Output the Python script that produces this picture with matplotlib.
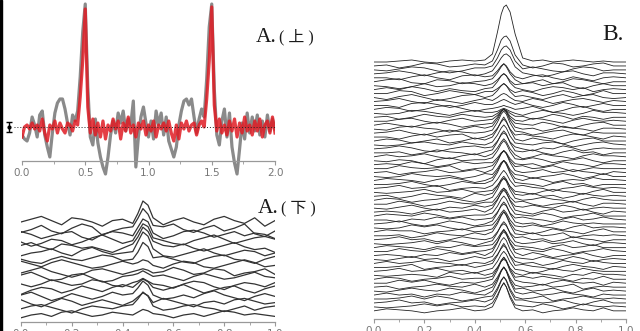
import numpy as np
import matplotlib.pyplot as plt
from matplotlib.patches import Rectangle

W, H = 640, 331

# ---- panel A (top): two traces on x = 0..2 (step 0.02), height in px above baseline
a_top_gray = [
    -8, -12, -14, -6, 10, 2, -10, 12, 16, -8,
    -20, -30, -6, 14, 24, 28, 28, 18, 4, -8,
    12, 6, 16, 50, 95, 123, 40, -10, -18, 8,
    -16, -30, -40, -47, -30, -8, 6, -6, 14, 4,
    16, -4, 8, 2, 26, -40, -10, 10, 20, 4,
    -10, 6, -12, 16, 2, 14, -8, 10, -14, -22,
    -30, -20, 2, 16, 26, 28, 22, 28, 10, -6,
    8, 18, 10, 48, 100, 123, 38, -8, -18, 6,
    18, -10, 14, -20, -36, -47, -22, 4, -12, 14,
    -6, 10, -4, 12, -8, 6, -10, 12, -4, 8,
    -2,
]
a_top_red = [
    -10, 0, 2, -2, 4, -2, 2, -4, 8, -6,
    -14, 2, -2, 6, -6, 4, -2, -6, 4, 2,
    -4, 6, 2, 30, 66, 118, 20, -6, 8, -8,
    4, -10, 6, -12, 2, -4, 8, -2, 6, -12,
    4, -4, 10, -6, 2, -10, 4, -2, 6, -8,
    2, -4, 6, -10, 2, -2, 4, -4, 6, -6,
    -14, 2, -12, 4, -2, 6, -4, 2, 4, -8,
    2, 6, 0, 28, 66, 120, 22, -4, 8, -6,
    2, -8, 6, -4, 8, -10, 4, -6, 10, -4,
    2, -8, 6, -4, 8, -10, 2, 6, -6, 10,
    -6,
]
a_top_ticks = [0.0, 0.5, 1.0, 1.5, 2.0]

# ---- panel A (bottom): stacked traces
a_bot_x = [0.00, 0.04, 0.08, 0.12, 0.16, 0.20, 0.24, 0.28, 0.32, 0.36, 0.40, 0.44,
           0.46, 0.48, 0.50, 0.52,
           0.56, 0.60, 0.64, 0.68, 0.72, 0.76, 0.80, 0.84, 0.88, 0.92, 0.96, 1.00]
a_bot_rows = [
    [0, 2, 4, 1, -2, 3, 2, 0, -3, 1, 2, -1, 6, 15, 12, 3, -2, 1, 3, 0, -2, 2, 4, 1, -1, 3, -3, 1],
    [-3, -1, 2, -2, -4, 0, 3, 1, -5, -2, 0, 1, 7, 14, 10, 2, 1, 3, -1, -3, 0, 2, -2, 0, 3, -4, -6, -2],
    [2, 0, -3, -1, 1, 2, -2, -4, 0, 2, 1, -1, 5, 11, 9, 1, -3, -1, 2, 3, 1, -2, 0, 2, -1, 1, 0, -3],
    [-1, -4, -2, 1, 0, -3, -1, 2, 4, 1, -2, 0, 6, 12, 10, 2, 0, -2, -3, 0, 2, 4, 1, -2, 0, 2, 3, 1],
    [1, 3, 0, -2, 2, 1, -1, 0, -2, -4, -1, 2, 7, 14, 11, 4, 1, 0, 2, -1, -3, -1, 1, 3, 0, -2, -1, -4],
    [-2, 0, 1, 3, 0, -2, 2, 4, 1, -1, 0, 1, 8, 15, 12, 3, -2, -3, -1, 1, 3, 0, -2, 0, 2, 1, -2, 0],
    [0, -2, -3, 0, 2, 0, -1, 1, 3, 2, -1, 0, 5, 12, 9, 1, 2, 0, -2, -3, 0, 2, 3, 0, -1, -3, 0, 2],
    [3, 1, -1, 2, 4, 2, 0, -2, -1, 1, 3, 1, 2, 4, 3, 0, -2, 1, 3, 2, -1, -2, 0, 2, 4, 2, -1, 0],
    [-1, 1, 3, 0, -2, -4, -2, 1, 2, 0, -2, 0, 1, 2, 1, -1, 0, 3, 1, -2, -1, 2, 1, -3, -1, 0, 2, -2],
    [2, 4, 1, -2, -1, 2, 3, 0, -3, -2, 1, 2, 3, 5, 3, 1, 2, 0, -2, 1, 3, 1, -1, 0, 2, 4, 1, 0],
    [0, -2, 0, 3, 1, -1, 0, 3, 2, -1, -2, 1, 2, 4, 2, 0, -1, -3, 0, 2, 1, -2, -4, -1, 1, 0, -2, 1],
    [-3, 0, 2, 1, -2, 0, 3, 1, -1, 2, 4, 2, 5, 8, 6, 2, 0, 2, 4, 1, -2, 0, 2, 3, 0, -2, 1, 3],
    [1, 3, 0, -3, -1, 2, 0, -2, 0, 3, 1, 2, 6, 11, 8, 1, -2, -1, 1, -1, 2, 4, 1, -1, -3, 0, 2, 0],
    [2, -1, -3, 0, 3, 1, -2, 0, 2, 0, -2, 1, 4, 7, 5, 0, 3, 1, -1, -3, 0, 1, -1, 2, 3, 1, -1, 0],
    [0, 2, 3, 1, -1, -3, 0, 2, 1, 0, 2, 3, 7, 12, 9, 2, -1, 0, 2, 3, 1, 0, -2, 0, 2, -1, 1, 2],
    [-2, 0, 1, -1, 2, 3, 1, -1, 0, 2, 1, 0, 2, 4, 3, 1, 0, -2, 0, 1, -1, 1, 3, 2, 0, 1, 0, -1],
]
a_bot_ticks = [0.0, 0.2, 0.4, 0.6, 0.8, 1.0]

# ---- panel B: stacked traces
b_x = [0.00, 0.05, 0.10, 0.15, 0.20, 0.25, 0.30, 0.35, 0.40,
       0.44, 0.47, 0.49, 0.505, 0.515, 0.525, 0.54, 0.56, 0.59,
       0.63, 0.67, 0.71, 0.75, 0.79, 0.83, 0.87, 0.91, 0.95, 1.00]
b_rows = [
    [0, 0, 1, 2, 0, -1, 1, 2, 1, 2, 8, 30, 48, 55, 57, 50, 28, 4, 1, 2, 0, 1, 2, 1, 0, 1, 0, 0],
    [0, 1, -2, 0, 3, 2, -1, 0, 2, 1, 5, 16, 26, 29, 30, 25, 11, 1, -2, 0, 3, 2, -1, 0, 2, 3, 0, 0],
    [0, -1, 1, 3, 2, -1, -3, -1, 2, 2, 4, 12, 20, 23, 24, 20, 9, 1, 3, 1, -1, -2, 1, 3, 2, -1, 0, 0],
    [0, 1, 3, 1, -2, 1, 3, 2, -2, 0, 3, 10, 16, 19, 20, 17, 7, 1, -1, -3, -1, 2, 3, 0, -2, 1, 1, 0],
    [0, 0, -2, 1, 3, 0, -2, 2, 3, 1, 2, 7, 12, 14, 12, 6, 1, -1, 2, 3, 0, -2, 1, -1, -3, 0, 1, 0],
    [0, 2, 3, -1, -2, 2, 1, -2, 0, 1, 3, 9, 15, 18, 15, 8, 2, -2, 0, 2, -2, 0, 3, 2, 0, -2, 0, 0],
    [0, -1, -3, -1, 2, -1, 0, 3, 2, 0, 2, 6, 10, 12, 10, 5, 1, 2, 3, 0, 2, 3, -1, -3, 0, 2, 0, 0],
    [0, 2, 0, 3, 1, -2, 1, -1, -2, 1, 2, 8, 14, 16, 14, 7, 2, 0, -2, 1, 3, 2, 0, 2, -2, 0, 1, 0],
    [0, 0, 3, 2, -2, 0, 3, 1, -1, 2, 2, 5, 8, 10, 8, 4, 1, 3, 1, -2, 0, 3, 1, -2, 0, 3, 0, 0],
    [0, -2, 1, 3, 0, -3, -1, 2, 3, 0, 2, 7, 12, 14, 12, 6, 1, 2, 0, -2, 1, 3, 0, 2, 3, 0, -1, 0],
    [0, 1, 3, 0, -2, 2, 0, -2, 1, 3, 1, 4, 7, 8, 7, 4, 1, 0, 3, 1, -2, 0, 2, 3, 1, -1, 1, 0],
    [0, 0, -2, 2, 3, 1, -2, 0, 3, 1, 1, 3, 5, 6, 5, 3, 1, 3, 0, -2, 0, 3, 1, -2, 0, 2, 0, 0],
    [0, 2, 1, -2, 0, 3, 4, 1, -2, 0, 1, 2, 3, 4, 3, 2, 0, 1, 3, 0, -3, -1, 2, 3, 0, -2, 0, 0],
    [0, -1, 0, 3, 2, 0, -2, 1, 3, 1, 1, 2, 4, 5, 4, 2, 0, -2, 1, 3, 1, 0, -2, 0, 3, 1, 1, 0],
    [0, 1, -2, 0, 3, 1, 0, 3, 1, 0, 1, 4, 7, 8, 7, 4, 1, 1, -2, 0, 3, 1, -2, 1, 0, -2, 0, 0],
    [0, 0, 2, 3, 0, -2, 1, 3, 0, 1, 2, 6, 10, 12, 10, 5, 1, 0, 3, 2, 0, -2, 1, 3, 1, 0, 1, 0],
    [0, 2, 0, -2, 1, 3, 1, -2, 0, 1, 2, 8, 14, 16, 14, 7, 2, 1, 0, 3, 1, -2, -3, 0, 2, 3, 0, 0],
    [0, -1, 2, 3, 1, 0, -3, 0, 3, 1, 3, 10, 17, 20, 17, 9, 2, 0, 1, -2, 0, 3, 1, 0, -2, 1, 1, 0],
    [0, 1, 3, 0, -2, 1, 3, 1, 0, 1, 3, 11, 19, 22, 19, 10, 2, 1, -2, 0, 2, 3, 0, -2, 1, 0, 0, 0],
    [0, 0, -2, 1, 3, 0, 2, 3, -2, 0, 3, 9, 15, 18, 15, 8, 2, 3, 1, 0, -2, 1, 3, 2, 0, -2, 1, 0],
    [0, 2, 1, -2, 0, 2, -2, 0, 3, 1, 4, 12, 20, 24, 20, 11, 2, 0, 3, 1, 0, -3, 0, 2, 3, 0, 0, 0],
    [0, -1, 0, 2, 3, 1, 0, 3, 1, 0, 3, 10, 17, 20, 17, 9, 2, 1, 0, 2, 3, 1, -2, 0, 2, 3, 1, 0],
    [0, 1, 3, 1, -2, -3, 0, 2, 3, 1, 2, 8, 14, 16, 14, 7, 2, 0, -2, 1, 0, 3, 1, -2, 0, 1, 0, 0],
    [0, 0, 1, -2, 0, 3, 1, 0, -2, 1, 3, 11, 19, 22, 19, 10, 2, 1, 3, 0, -2, 1, 3, 0, 1, -2, 0, 0],
    [0, 2, 0, 1, 3, 0, -2, 1, 3, 0, 3, 9, 15, 18, 15, 8, 2, -2, 0, 3, 1, 0, -2, 1, 3, 1, 1, 0],
    [0, -1, 1, 0, -3, 1, 3, 0, 1, 1, 3, 10, 17, 20, 17, 9, 2, 1, 3, 1, -2, 0, 1, 3, 0, -2, 0, 0],
    [0, 1, 0, 3, 1, -2, 0, 3, 1, 2, 2, 7, 12, 14, 12, 6, 1, 0, 1, -2, 0, 3, 1, 0, -2, 1, 1, 0],
    [0, 0, 3, 1, 0, 1, 3, -2, 0, 1, 3, 9, 15, 18, 15, 8, 2, 3, 0, 1, 3, 0, -3, -1, 1, 0, 0, 0],
    [0, 1, -2, 0, 1, 3, 0, 1, 3, 0, 3, 11, 19, 22, 19, 10, 2, 0, 1, 3, 0, 1, 3, 1, 0, -2, 1, 0],
    [0, -1, 0, 3, 1, 0, 1, -2, 0, 3, 2, 8, 14, 16, 14, 7, 2, 1, -2, 0, 1, 3, 1, -2, 0, 3, 0, 0],
    [0, 2, 1, 0, -2, 1, 3, 1, -2, 0, 3, 10, 17, 20, 17, 9, 2, 0, 3, 1, -2, 0, 1, 0, 3, 1, 1, 0],
    [0, 0, 1, 3, 0, -2, 0, 3, 1, 1, 4, 12, 20, 24, 20, 11, 2, 1, 0, -2, 1, 3, 0, 1, -2, 0, 0, 0],
    [0, 1, 3, 0, 1, 3, -2, 0, 1, 0, 3, 9, 15, 18, 15, 8, 2, 3, 1, 0, -3, 0, 1, 3, 1, 0, 1, 0],
    [0, -1, 0, 1, 3, 0, 1, 3, 0, 1, 2, 7, 12, 14, 12, 6, 1, 0, -2, 1, 3, 1, 0, -2, 1, 3, 0, 0],
    [0, 1, -2, 0, 3, 1, 0, -2, 3, 1, 3, 10, 17, 20, 17, 9, 2, 1, 3, 0, 1, -2, 0, 3, 1, 0, 1, 0],
    [0, 2, 1, -2, 0, 1, 3, 0, -2, 0, 3, 11, 19, 22, 19, 10, 2, 0, 1, 3, 1, 0, -2, 1, 3, 1, 0, 0],
    [0, 0, 3, 1, -2, 0, 3, 1, 0, 2, 2, 8, 14, 16, 14, 7, 2, 3, 0, -2, 0, 1, 3, 0, -2, 1, 1, 0],
    [0, -1, 1, 3, 0, -2, 1, 0, 3, 1, 3, 9, 15, 18, 15, 8, 2, 1, 3, 1, 0, 3, 1, -2, 0, 1, 0, 0],
    [0, 1, 0, -2, 1, 3, 0, 1, 3, 0, 4, 12, 20, 24, 20, 11, 2, 0, -2, 1, 3, 0, 1, 3, 0, -2, 1, 0],
    [0, 2, 1, 0, 3, 1, -2, 0, 1, 1, 3, 10, 17, 20, 17, 9, 2, 1, 0, 3, 1, -2, 0, 1, 3, 0, 0, 0],
    [0, 0, -2, 1, 0, 3, 1, 3, 0, 1, 2, 8, 14, 16, 14, 7, 2, 3, 1, 0, -2, 1, 3, 0, 1, 3, 1, 0],
    [0, 1, 3, 0, -2, 0, 3, 1, -2, 0, 3, 11, 19, 22, 19, 10, 2, 0, 1, -2, 0, 3, 1, 0, 1, 0, 0, 0],
    [0, -1, 0, 3, 1, 3, 0, -2, 1, 2, 3, 9, 15, 18, 15, 8, 2, 1, 3, 1, 0, -2, 1, 3, 0, 1, 1, 0],
    [0, 2, 1, 1, -2, 0, 1, 3, 0, 1, 3, 10, 17, 20, 17, 9, 2, 0, -2, 0, 3, 1, 0, -2, 1, 3, 0, 0],
    [0, 0, 1, -2, 0, 3, 1, 0, 3, 1, 4, 12, 20, 24, 20, 11, 2, 1, 3, 0, 1, 3, -2, 0, 1, 0, 1, 0],
    [0, 1, 3, 0, 1, -2, 0, 3, 1, 0, 2, 8, 14, 16, 14, 7, 2, 3, 0, 1, -2, 0, 3, 1, 0, -2, 0, 0],
    [0, -1, 0, 1, 3, 0, 3, 1, -2, 1, 3, 11, 19, 22, 19, 10, 2, 0, 1, 3, 0, 1, 3, 0, -2, 1, 1, 0],
    [0, 2, 1, 0, -2, 1, 0, 3, 1, 2, 3, 9, 15, 18, 15, 8, 2, 1, 0, -2, 1, 3, 0, 1, 3, 0, 0, 0],
    [0, 0, 3, 1, 0, 3, 1, -2, 0, 1, 3, 10, 17, 20, 17, 9, 2, 3, 1, 0, 3, 1, -2, 0, 1, 3, 1, 0],
    [0, 1, 0, -2, 1, 0, 3, 1, 3, 0, 4, 13, 22, 26, 22, 12, 3, 0, 3, 1, -2, 0, 1, 3, 0, -2, 0, 0],
    [0, -1, 1, 3, 0, 1, -2, 0, 3, 1, 3, 11, 19, 22, 19, 10, 2, 1, 0, 3, 1, 0, 3, 1, -2, 0, 1, 0],
    [0, 2, 0, 1, 3, 1, 0, -2, 1, 0, 3, 9, 15, 18, 15, 8, 2, 0, 1, -2, 0, 3, 1, 0, 3, 1, 0, 0],
    [0, 0, 1, 3, -2, 0, 1, 3, 0, 2, 4, 12, 20, 24, 20, 11, 2, 3, 1, 0, -2, 1, 3, 1, 0, -2, 1, 0],
    [0, 1, 3, 0, 1, 3, 0, 1, -2, 1, 3, 10, 17, 20, 17, 9, 2, 1, -2, 0, 3, 1, 0, 3, 1, 0, 0, 0],
    [0, -1, 0, 1, 0, -2, 3, 1, 3, 0, 2, 8, 14, 16, 14, 7, 2, 0, 3, 1, 0, -2, 1, 0, 3, 1, 1, 0],
    [0, 2, 1, -2, 0, 1, 3, 0, 1, 1, 3, 11, 19, 22, 19, 10, 2, 3, 1, 3, 1, 0, -2, 1, 0, 3, 0, 0],
    [0, 0, 3, 1, 3, 0, -2, 1, 0, 2, 4, 13, 22, 26, 22, 12, 3, 1, 0, -2, 1, 3, 1, 0, 1, -2, 1, 0],
    [0, 1, -2, 0, 1, 3, 1, 0, 3, 0, 3, 10, 17, 20, 17, 9, 2, 0, 1, 3, 0, 1, 3, -2, 0, 1, 0, 0],
    [0, -1, 1, 3, 1, 0, 3, 1, -2, 1, 4, 12, 20, 24, 20, 11, 2, 3, 0, 1, 3, 0, -2, 1, 3, 0, 1, 0],
    [0, 2, 0, 1, -2, 1, 0, 3, 1, 0, 4, 14, 24, 28, 24, 13, 3, 1, 3, 0, 1, 3, 1, 0, -2, 1, 0, 0],
    [0, 0, 1, 3, 0, 3, 1, -2, 0, 2, 3, 11, 19, 22, 19, 10, 2, 0, 1, 3, -2, 0, 1, 3, 1, 0, 1, 0],
    [0, 1, 3, 0, 1, -2, 0, 1, 3, 1, 4, 13, 22, 26, 22, 12, 3, 3, 1, 0, 1, 3, 0, -2, 1, 3, 0, 0],
    [0, -1, 0, 1, 3, 1, 3, 0, 1, 0, 4, 12, 20, 24, 20, 11, 2, 1, 0, 3, 1, -2, 0, 3, 1, 0, 1, 0],
    [0, 2, 1, 0, -2, 0, 1, 3, 0, 1, 4, 14, 24, 28, 24, 13, 3, 0, 1, -2, 0, 1, 3, 1, 0, 3, 0, 0],
]


fig = plt.figure(figsize=(W / 100, H / 100), dpi=100)


def panel(px0, px1, axis_px):
    # axes spanning full height, y in pixels measured upward from the bottom edge
    ax = fig.add_axes([px0 / W, 0, (px1 - px0) / W, 1])
    ax.set_ylim(0, H)
    ax.patch.set_alpha(0)
    for s in ['top', 'right', 'left']:
        ax.spines[s].set_visible(False)
    ax.spines['bottom'].set_position(('data', H - axis_px))
    ax.spines['bottom'].set_color('#999999')
    ax.spines['bottom'].set_linewidth(0.9)
    ax.set_yticks([])
    ax.tick_params(axis='x', which='major', colors='#999999', labelcolor='#777777',
                   labelsize=7.5, length=3, width=0.8, pad=2)
    ax.tick_params(axis='x', which='minor', colors='#999999', length=2, width=0.6)
    return ax


# A (top)
ax1 = panel(22, 275, 161)
ax1.set_xlim(0, 2)
ax1.set_xticks(a_top_ticks)
ax1.set_xticklabels([f'{t:.1f}' for t in a_top_ticks])
ax1.set_xticks(np.arange(0, 2.01, 0.25), minor=True)
base1 = H - 127
xt = np.linspace(0, 2, len(a_top_gray))
ax1.plot(xt, base1 + np.array(a_top_gray), color='#8a8a8a', lw=2.3, zorder=2)
ax1.plot(xt, base1 + np.array(a_top_red), color='#e01c24', lw=2.3, alpha=0.85, zorder=3)
ax1.plot([-0.06, 2.0], [base1, base1], ls=(0, (1, 2)), color='#222222', lw=0.7,
         zorder=4, clip_on=False)
ax1.errorbar([-0.1], [base1], yerr=[5], fmt='o', ms=2, color='black', lw=1,
             capsize=2.5, capthick=1, clip_on=False, zorder=5)

# A (bottom)
ax2 = panel(21, 275, 322)
ax2.set_xlim(0, 1)
ax2.set_xticks(a_bot_ticks)
ax2.set_xticklabels([f'{t:.1f}' for t in a_bot_ticks])
ax2.set_xticks(np.arange(0, 1.01, 0.1), minor=True)
for r, row in enumerate(a_bot_rows):
    base = H - (222 + r * 6.2)
    ax2.plot(a_bot_x, base + 1.4 * np.array(row), color='#333333', lw=0.9)

# B
ax3 = panel(374, 626, 319)
ax3.set_xlim(0, 1)
ax3.set_xticks(a_bot_ticks)
ax3.set_xticklabels([f'{t:.1f}' for t in a_bot_ticks])
ax3.set_xticks(np.arange(0, 1.01, 0.1), minor=True)
for r, row in enumerate(b_rows):
    base = H - (62 + r * 3.95)
    ax3.plot(b_x, base + np.array(row), color='#222222', lw=0.6)

# panel labels
lab_fam = ['Liberation Serif', 'Noto Sans CJK SC']
fig.text(256 / W, 1 - 42 / H, 'A.', family='Liberation Serif', size=15.5,
         va='baseline', color='#1a1a1a')
fig.text(279 / W, 1 - 41 / H, '( 上 )', family=lab_fam, size=11.5,
         va='baseline', color='#1a1a1a')
fig.text(258 / W, 1 - 213 / H, 'A.', family='Liberation Serif', size=15.5,
         va='baseline', color='#1a1a1a')
fig.text(281 / W, 1 - 212 / H, '( 下 )', family=lab_fam, size=11.5,
         va='baseline', color='#1a1a1a')
fig.text(602 / W, 1 - 40 / H, 'B.', family='Liberation Serif', size=17,
         va='baseline', color='#1a1a1a')

# dark strip on the left edge
fig.add_artist(Rectangle((0, 0), 2 / W, 1, transform=fig.transFigure,
                         color='black', zorder=10))

fig.savefig('out.png', dpi=100)
